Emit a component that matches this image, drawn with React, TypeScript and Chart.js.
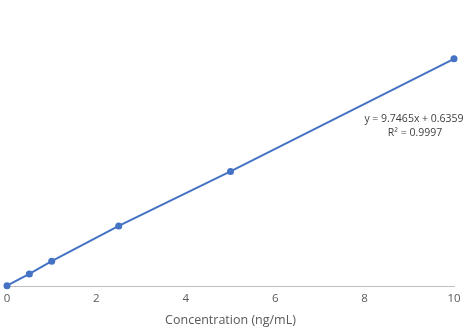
import React, { useEffect, useRef } from "react";
import { Chart, registerables } from "chart.js";

Chart.register(...registerables);

const concentrations = [0, 0.5, 1, 2.5, 5, 10];
const responses = [0.2, 5.3, 10.8, 26, 49.5, 98.1];
const xTicks = [0, 2, 4, 6, 8, 10];
const equationLines = ["y = 9.7465x + 0.6359", "R² = 0.9997"];
const xTitle = "Concentration (ng/mL)";

const FONT = "'Open Sans', 'Noto Sans', sans-serif";

const equationPlugin = {
  id: "equationLabel",
  afterDatasetsDraw(chart: any) {
    const { ctx, chartArea } = chart;
    ctx.save();
    ctx.fillStyle = "#404040";
    ctx.font = `10.5px ${FONT}`;
    ctx.textAlign = "center";
    ctx.textBaseline = "middle";
    const cx = chartArea.right - 40;
    const cy = chartArea.top + 111;
    ctx.fillText(equationLines[0], cx, cy);
    ctx.fillText(equationLines[1], cx + 1, cy + 14);
    ctx.restore();
  },
};

export default function App() {
  const ref = useRef<HTMLCanvasElement>(null);
  useEffect(() => {
    if (!ref.current) return;
    const chart = new Chart(ref.current, {
      type: "scatter",
      data: {
        datasets: [
          {
            data: concentrations.map((x, i) => ({ x, y: responses[i] })),
            showLine: true,
            borderColor: "#4472C4",
            backgroundColor: "#4472C4",
            borderWidth: 2,
            pointRadius: 3.5,
            pointBorderWidth: 0,
            clip: false,
          },
        ],
      },
      options: {
        animation: false,
        responsive: false,
        maintainAspectRatio: false,
        layout: { padding: { left: 7, right: 16, top: 8, bottom: 7 } },
        plugins: { legend: { display: false }, tooltip: { enabled: false } },
        scales: {
          x: {
            type: "linear",
            min: 0,
            max: 10,
            afterBuildTicks: (axis: any) => {
              axis.ticks = xTicks.map((v) => ({ value: v }));
            },
            afterFit: (axis: any) => {
              axis.paddingLeft = 0;
              axis.paddingRight = 0;
            },
            grid: { display: false, drawTicks: false },
            border: { display: true, color: "#BFBFBF", width: 1 },
            ticks: { color: "#595959", font: { family: FONT, size: 11.5 }, padding: 6 },
            title: {
              display: true,
              text: xTitle,
              color: "#595959",
              font: { family: FONT, size: 12.5 },
              padding: { top: 1, bottom: 0 },
            },
          },
          y: { display: false, min: 0, max: 120 },
        },
      },
      plugins: [equationPlugin],
    });
    return () => chart.destroy();
  }, []);
  return (
    <div style={{ position: "fixed", left: 0, top: 0, width: 470, height: 335, background: "#fff" }}>
      <canvas ref={ref} width={470} height={335} style={{ width: 470, height: 335 }} />
    </div>
  );
}
